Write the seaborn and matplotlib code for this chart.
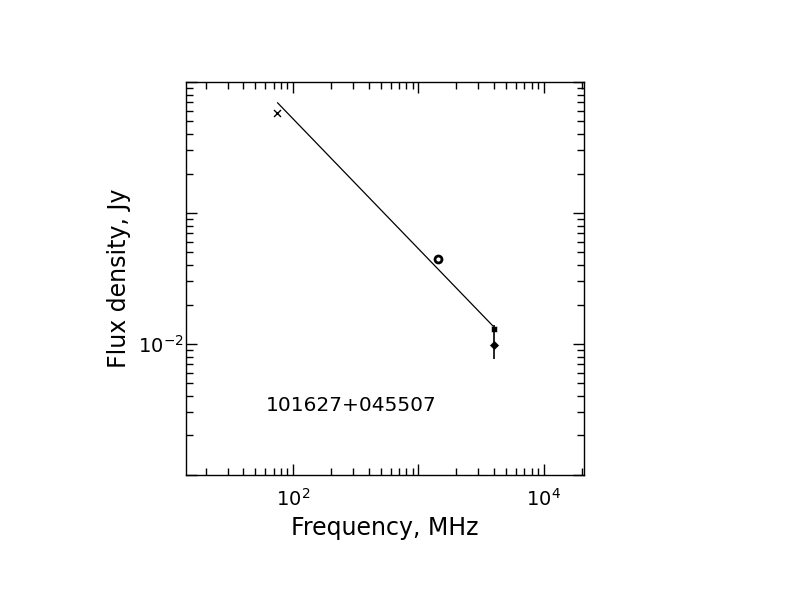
import matplotlib
matplotlib.use("Agg")
import matplotlib.pyplot as plt
import seaborn as sns
import pandas as pd
from matplotlib.ticker import LogLocator, NullFormatter

sns.set_theme(style="white")
plt.rcParams['font.family'] = ['DejaVu Sans']
plt.rcParams['mathtext.default'] = 'regular'
plt.rcParams['text.color'] = 'black'
plt.rcParams['axes.labelcolor'] = 'black'
plt.rcParams['xtick.color'] = 'black'
plt.rcParams['ytick.color'] = 'black'

# data
cross_freq = [74.0]
cross_flux = [0.583]
circle_freq = [1420.0]
circle_flux = [0.0448]
square_freq = [4000.0]
square_flux = [0.0131]
diamond_freq = [4000.0]
diamond_flux = [0.0098]
diamond_err_low = [0.0098 - 0.00764]
diamond_err_high = [0.0139 - 0.0098]
fit_freq = [75.0, 3930.0]
fit_flux = [0.695, 0.0137]
source_name = "101627+045507"
x_label = "Frequency, MHz"
y_label = "Flux density, Jy"
xtick_vals = [1e2, 1e4]
xtick_labels = ["$10^{2}$", "$10^{4}$"]
ytick_vals = [1e-2]
ytick_labels = ["$10^{-2}$"]

fig = plt.figure(figsize=(7.92, 6.12), dpi=100)
ax = fig.add_axes([0.235, 0.224, 0.502, 0.642])

fit_df = pd.DataFrame({"f": fit_freq, "s": fit_flux})
sns.lineplot(data=fit_df, x="f", y="s", ax=ax, color="black", lw=0.9)
sns.scatterplot(x=cross_freq, y=cross_flux, ax=ax, marker="x", color="black", s=25, linewidth=1.0)
sns.scatterplot(x=circle_freq, y=circle_flux, ax=ax, marker="o", facecolor="white",
                edgecolor="black", s=25, linewidth=2.0)
sns.scatterplot(x=square_freq, y=square_flux, ax=ax, marker="s", color="black", s=25)
ax.errorbar(diamond_freq, diamond_flux, yerr=[diamond_err_low, diamond_err_high],
            fmt="none", ecolor="black", elinewidth=1.2, capsize=0)
sns.scatterplot(x=diamond_freq, y=diamond_flux, ax=ax, marker="D", color="black", s=25)

ax.set_xscale("log")
ax.set_yscale("log")
ax.set_xlim(14.0, 20800.0)
ax.set_ylim(1e-3, 1.0)

ax.xaxis.set_major_locator(LogLocator(base=10, numticks=10))
ax.xaxis.set_minor_locator(LogLocator(base=10, subs=range(2, 10), numticks=30))
ax.yaxis.set_major_locator(LogLocator(base=10, numticks=10))
ax.yaxis.set_minor_locator(LogLocator(base=10, subs=range(2, 10), numticks=30))
ax.xaxis.set_minor_formatter(NullFormatter())
ax.yaxis.set_minor_formatter(NullFormatter())

def xfmt(v, pos):
    for tv, tl in zip(xtick_vals, xtick_labels):
        if abs(v - tv) / tv < 1e-6:
            return tl
    return ""

def yfmt(v, pos):
    for tv, tl in zip(ytick_vals, ytick_labels):
        if abs(v - tv) / tv < 1e-6:
            return tl
    return ""

ax.xaxis.set_major_formatter(plt.FuncFormatter(xfmt))
ax.yaxis.set_major_formatter(plt.FuncFormatter(yfmt))

ax.tick_params(which="both", direction="in", top=True, right=True, bottom=True, left=True,
               color="black", width=1.0)
ax.tick_params(which="major", length=8, labelsize=14)
ax.tick_params(axis="x", which="major", pad=9)
ax.tick_params(axis="y", which="major", pad=2)
ax.tick_params(which="minor", length=5)
for sp in ax.spines.values():
    sp.set_color("black")
    sp.set_linewidth(1.0)
ax.grid(False)

ax.set_xlabel(x_label, fontsize=17, labelpad=5, color="black")
ax.set_ylabel(y_label, fontsize=17, labelpad=5, color="black")

ax.text(60.0, 3.36e-3, source_name, fontsize=14.5, ha="left", va="center", color="black")

fig.savefig("out.png", dpi=100, facecolor="white")
